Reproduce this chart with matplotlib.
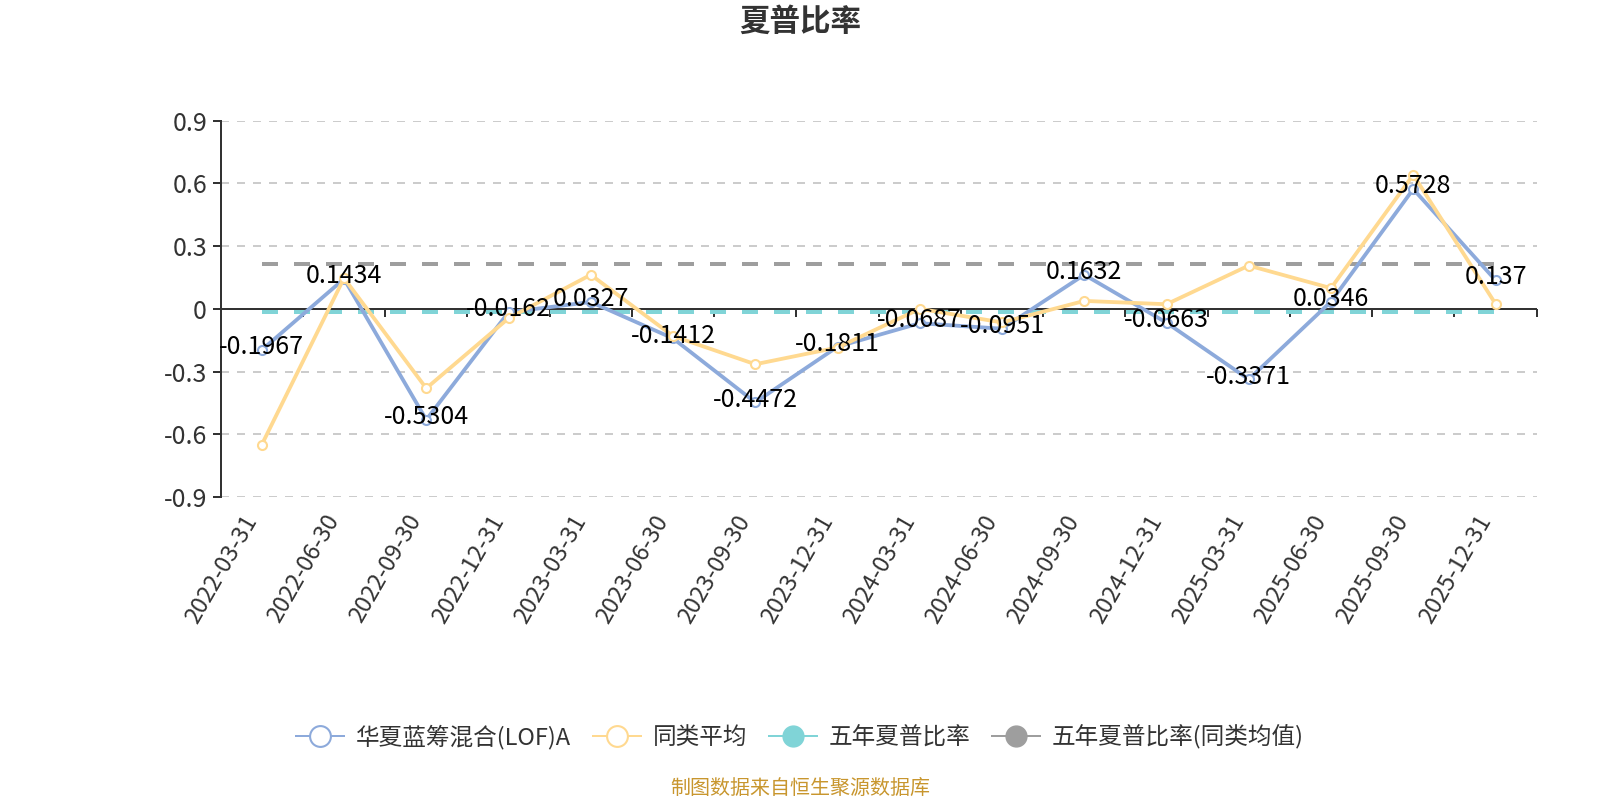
"""Sharpe ratio chart: fund vs peer average, with five-year reference lines."""

import matplotlib

matplotlib.use("Agg")
import matplotlib.pyplot as plt
from matplotlib.lines import Line2D
from matplotlib.markers import TICKDOWN
import numpy as np

plt.rcParams["font.family"] = ["Noto Sans CJK SC", "DejaVu Sans"]
plt.rcParams["lines.scale_dashes"] = False
plt.rcParams["axes.unicode_minus"] = False

TITLE = "夏普比率"
SOURCE = "制图数据来自恒生聚源数据库"

DATES = [
    "2022-03-31", "2022-06-30", "2022-09-30", "2022-12-31",
    "2023-03-31", "2023-06-30", "2023-09-30", "2023-12-31",
    "2024-03-31", "2024-06-30", "2024-09-30", "2024-12-31",
    "2025-03-31", "2025-06-30", "2025-09-30", "2025-12-31",
]
FUND = [
    -0.1967, 0.1434, -0.5304, -0.0162, 0.0327, -0.1412, -0.4472, -0.1811,
    -0.0687, -0.0951, 0.1632, -0.0663, -0.3371, 0.0346, 0.5728, 0.137,
]
PEER_AVG = [
    -0.65, 0.147, -0.38, -0.045, 0.163, -0.13, -0.265, -0.185,
    0.0, -0.065, 0.038, 0.022, 0.207, 0.099, 0.641, 0.024,
]
FIVE_YEAR = -0.013
FIVE_YEAR_PEER = 0.214

SERIES_NAMES = ["华夏蓝筹混合(LOF)A", "同类平均", "五年夏普比率", "五年夏普比率(同类均值)"]
Y_TICKS = [-0.9, -0.6, -0.3, 0.0, 0.3, 0.6, 0.9]

BLUE = "#8DAADB"
YELLOW = "#FFD990"
TEAL = "#80D4D7"
GRAY = "#9E9E9E"
TEXT = "#333333"

PX = 0.72  # points per pixel at dpi=100


def main() -> None:
    fig = plt.figure(figsize=(16, 8), dpi=100)
    ax = fig.add_axes([0.1379, 0.37875, 0.8225, 0.470375])

    x = np.arange(len(DATES))

    # five-year reference lines
    ax.plot(x, np.full(len(x), FIVE_YEAR), color=TEAL, lw=4 * PX,
            linestyle=(0, (16 * PX, 16 * PX)), zorder=2)
    ax.plot(x, np.full(len(x), FIVE_YEAR_PEER), color=GRAY, lw=4 * PX,
            linestyle=(0, (16 * PX, 16 * PX)), zorder=2)

    ax.plot(x, FUND, color=BLUE, lw=3.8 * PX, marker="o", ms=6.5,
            mfc="white", mec=BLUE, mew=1.5, zorder=3)
    ax.plot(x, PEER_AVG, color=YELLOW, lw=3.8 * PX, marker="o", ms=6.5,
            mfc="white", mec=YELLOW, mew=1.5, zorder=4)

    for xi, v in zip(x, FUND):
        ax.annotate(f"{v:g}", (xi, v), xytext=(0, 2), textcoords="offset points",
                    ha="center", va="center", fontsize=18, color="black", zorder=6)

    ax.set_xlim(-0.5, len(DATES) - 0.5)
    ax.set_ylim(Y_TICKS[0], Y_TICKS[-1])

    ax.set_yticks(Y_TICKS)
    ax.set_yticklabels([f"{round(v, 1) + 0.0:g}" for v in Y_TICKS])
    ax.tick_params(axis="y", length=8 * PX, width=2 * PX, color=TEXT,
                   labelsize=18, labelcolor=TEXT, pad=4)

    ax.set_xticks(x)
    ax.set_xticklabels(DATES, rotation=60, ha="right", va="top")
    ax.tick_params(axis="x", length=0, labelsize=17, labelcolor=TEXT, pad=10)

    for side in ("top", "right", "bottom"):
        ax.spines[side].set_visible(False)
    ax.spines["left"].set_color(TEXT)
    ax.spines["left"].set_linewidth(2 * PX)

    ax.grid(axis="y", color="#CCCCCC", lw=2 * PX, linestyle=(0, (8 * PX, 8 * PX)))
    ax.set_axisbelow(True)

    # category axis drawn on the zero line, ticks at category boundaries
    boundaries = np.arange(len(DATES) + 1) - 0.5
    ax.axhline(0, color=TEXT, lw=2 * PX, zorder=1.5)
    ax.plot(boundaries, np.zeros(len(boundaries)), ls="none", marker=TICKDOWN,
            ms=8 * PX, mew=2 * PX, color=TEXT, clip_on=False, zorder=1.5)

    handles = [
        Line2D([], [], color=BLUE, lw=2 * PX, marker="o", ms=15, mfc="white",
               mec=BLUE, mew=1.5),
        Line2D([], [], color=YELLOW, lw=2 * PX, marker="o", ms=15, mfc="white",
               mec=YELLOW, mew=1.5),
        Line2D([], [], color=TEAL, lw=2 * PX, marker="o", ms=15, mfc=TEAL, mec=TEAL),
        Line2D([], [], color=GRAY, lw=2 * PX, marker="o", ms=15, mfc=GRAY, mec=GRAY),
    ]
    leg = fig.legend(handles, SERIES_NAMES, loc="center", bbox_to_anchor=(0.5, 0.079),
                     ncol=4, frameon=False, fontsize=17, handlelength=2.05,
                     handletextpad=0.5, columnspacing=0.9)
    for t in leg.get_texts():
        t.set_color(TEXT)

    fig.text(0.5, 0.973, TITLE, ha="center", va="center", fontsize=22,
             fontweight="bold", color=TEXT)
    fig.text(0.5, 0.014, SOURCE, ha="center", va="center", fontsize=14.4,
             color="#C8962E")

    fig.savefig("out.png", dpi=100)
    plt.close(fig)


if __name__ == "__main__":
    main()
